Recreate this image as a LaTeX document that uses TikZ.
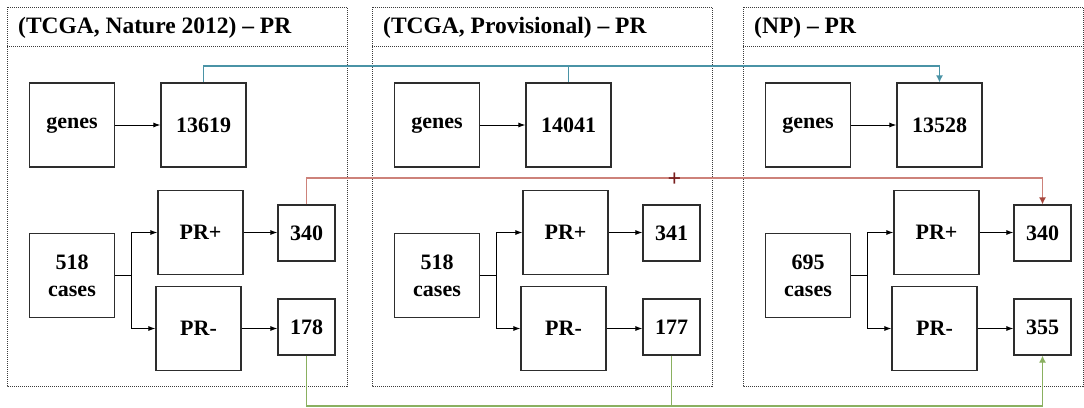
\documentclass[tikz,border=0pt]{standalone}
\usepackage{fontspec}
\setmainfont{Liberation Serif}
\usetikzlibrary{arrows.meta}
\definecolor{frame}{RGB}{60,60,60}
\definecolor{boxline}{RGB}{45,45,45}
\definecolor{tealline}{RGB}{74,147,166}
\definecolor{redline}{RGB}{205,130,122}
\definecolor{redhead}{RGB}{165,70,60}
\definecolor{plusred}{RGB}{120,30,30}
\definecolor{greenline}{RGB}{138,176,96}
\begin{document}
\begin{tikzpicture}[x=1pt,y=-1pt,
  bx/.style={draw=boxline,line width=1.2pt,fill=white,inner sep=0pt,align=center,
    font=\fontsize{22}{27}\selectfont\bfseries},
  big/.style={bx,minimum width=85pt,minimum height=84pt},
  small/.style={bx,minimum width=57pt,minimum height=56pt},
  panel/.style={draw=frame,line width=0.8pt,dash pattern=on 1pt off 1pt},
  title/.style={anchor=west,inner sep=0pt,font=\fontsize{23.5}{26}\selectfont\bfseries},
  flow/.style={draw=black,line width=1pt,-{Latex[length=7pt,width=5pt]}},
  link/.style={line width=1.2pt}]
\useasboundingbox (0,0) rectangle (1084,407);
\fill[white] (0,0) rectangle (1084,407);

% three panels: one per data set
\foreach \i/\dx/\ttl/\ng/\nc/\np/\nm in {
  1/0/{(TCGA, Nature 2012) -- PR}/13619/518/340/178,
  2/365/{(TCGA, Provisional) -- PR}/14041/518/341/177,
  3/736/{(NP) -- PR}/13528/695/340/355}{
  \draw[panel] (7+\dx,7) rectangle (347+\dx,386);
  \draw[panel] (7+\dx,46) -- (347+\dx,46);
  \node[title] (t\i) at (18+\dx,28) {\ttl};
  \node[big] (g\i) at (72+\dx,125) {genes};
  \node[big] (n\i) at (203.5+\dx,125) {\ng};
  \node[big] (c\i) at (72+\dx,275.5) {\nc\\cases};
  \node[big] (p\i) at (200.5+\dx,232.5) {PR+};
  \node[big] (m\i) at (198.5+\dx,328.5) {PR-};
  \node[small] (a\i) at (306.5+\dx,233) {\np};
  \node[small] (b\i) at (306.5+\dx,327) {\nm};
  \draw[flow] (g\i) -- (n\i);
  \draw[line width=1.4pt] (c\i.east) -- ++(16,0) coordinate (j\i);
  \draw[flow] (j\i) |- (p\i.west);
  \draw[flow] (j\i) |- (m\i.west);
  \draw[flow] (p\i.east) -- (a\i.west |- p\i.east);
  \draw[flow] (m\i.east) -- (b\i.west |- m\i.east);
}

% links between the data sets
\coordinate (tl) at (0,66);
\coordinate (rl) at (0,178);
\coordinate (gl) at (0,406);
\draw[link,tealline] (n2.north) -- (n2.north |- tl);
\draw[link,tealline,-{Latex[length=7pt,width=7pt]}] (n1.north) -- (n1.north |- tl) -| (n3.north);
\draw[link,redline,-{Latex[length=7pt,width=7pt,color=redhead]}] (a1.north) -- (a1.north |- rl) -| (a3.north);
\node[text=plusred,font=\fontsize{24}{24}\selectfont\bfseries,inner sep=0pt,xshift=3pt,yshift=-1.5pt] (plus) at (a2.north |- rl) {+};
\draw[link,greenline] (b2.south) -- (b2.south |- gl);
\draw[link,greenline,-{Latex[length=7pt,width=7pt]}] (b1.south) -- (b1.south |- gl) -| (b3.south);
\end{tikzpicture}
\end{document}
